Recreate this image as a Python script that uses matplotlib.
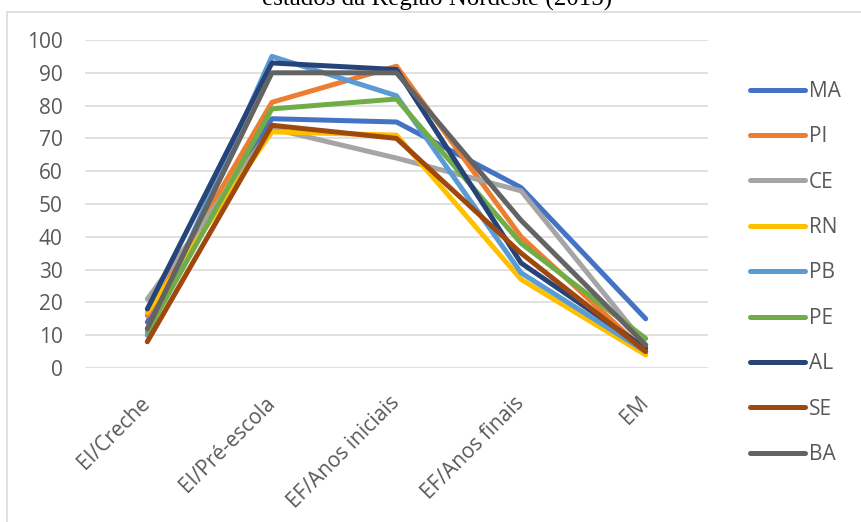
import matplotlib
matplotlib.use("Agg")
import matplotlib.pyplot as plt
from matplotlib.patches import Rectangle

# data
categories = ["EI/Creche", "EI/Pré-escola", "EF/Anos iniciais", "EF/Anos finais", "EM"]
states = ["MA", "PI", "CE", "RN", "PB", "PE", "AL", "SE", "BA"]
ma = [14, 76, 75, 55, 15]
pi = [16, 81, 92, 40, 5]
ce = [21, 73, 64, 54, 7]
rn = [17, 72, 71, 27, 4]
pb = [10, 95, 83, 29, 5]
pe = [11, 79, 82, 38, 9]
al = [18, 93, 91, 32, 6]
se = [8, 74, 70, 35, 5]
ba = [12, 90, 90, 45, 7]
yticks = list(range(0, 101, 10))

series = [ma, pi, ce, rn, pb, pe, al, se, ba]
colors = ["#4472C4", "#ED7D31", "#A5A5A5", "#FFC000", "#5B9BD5",
          "#70AD47", "#264478", "#9E480E", "#636363"]

W, H = 862, 522
FS = 15
fig = plt.figure(figsize=(W / 100, H / 100), dpi=100)
ax = fig.add_axes([85 / W, 1 - 368 / H, (708 - 85) / W, (368 - 40) / H])

x = list(range(len(categories)))
for name, vals, c in zip(states, series, colors):
    ax.plot(x, vals, color=c, lw=3.6, label=name,
            solid_capstyle="round", solid_joinstyle="round")

ax.set_xlim(-0.5, len(categories) - 0.5)
ax.set_ylim(0, 100)
ax.set_yticks(yticks)
ax.set_xticks(x)
ax.set_xticklabels(categories)
ax.grid(True, axis="y", color="#D9D9D9", lw=1.1)
ax.set_axisbelow(True)
for s in ax.spines.values():
    s.set_visible(False)

ax.tick_params(axis="y", length=0, pad=16, labelsize=FS, labelcolor="#595959")
ax.tick_params(axis="x", length=0, pad=23, labelsize=FS, labelcolor="#595959")
for lbl in ax.get_yticklabels() + ax.get_xticklabels():
    lbl.set_fontfamily("Open Sans")
for lbl in ax.get_xticklabels():
    lbl.set_rotation(45)
    lbl.set_rotation_mode("anchor")
    lbl.set_ha("right")
    lbl.set_va("center")

leg = fig.legend(loc="upper left", bbox_to_anchor=(750 / W, 1 - 81 / H),
                 frameon=False, handlelength=2.64, handletextpad=0.19,
                 labelspacing=1.17, borderpad=0, borderaxespad=0,
                 prop={"family": "Open Sans", "size": FS})
for t in leg.get_texts():
    t.set_color("#595959")
for h in leg.get_lines():
    h.set_solid_capstyle("round")

# chart frame and the title cut off at the top, as in the source
fig.patches.append(Rectangle((7.5 / W, -0.1), 1.0, (H - 11.5) / H + 0.1,
                             transform=fig.transFigure, fill=False,
                             edgecolor="#D9D9D9", lw=1.1))
fig.text(437 / W, 1 - 5.5 / H, "estados da Região Nordeste (2015)",
         ha="center", va="baseline", family="Liberation Serif", size=18)

fig.savefig("out.png", dpi=100)
